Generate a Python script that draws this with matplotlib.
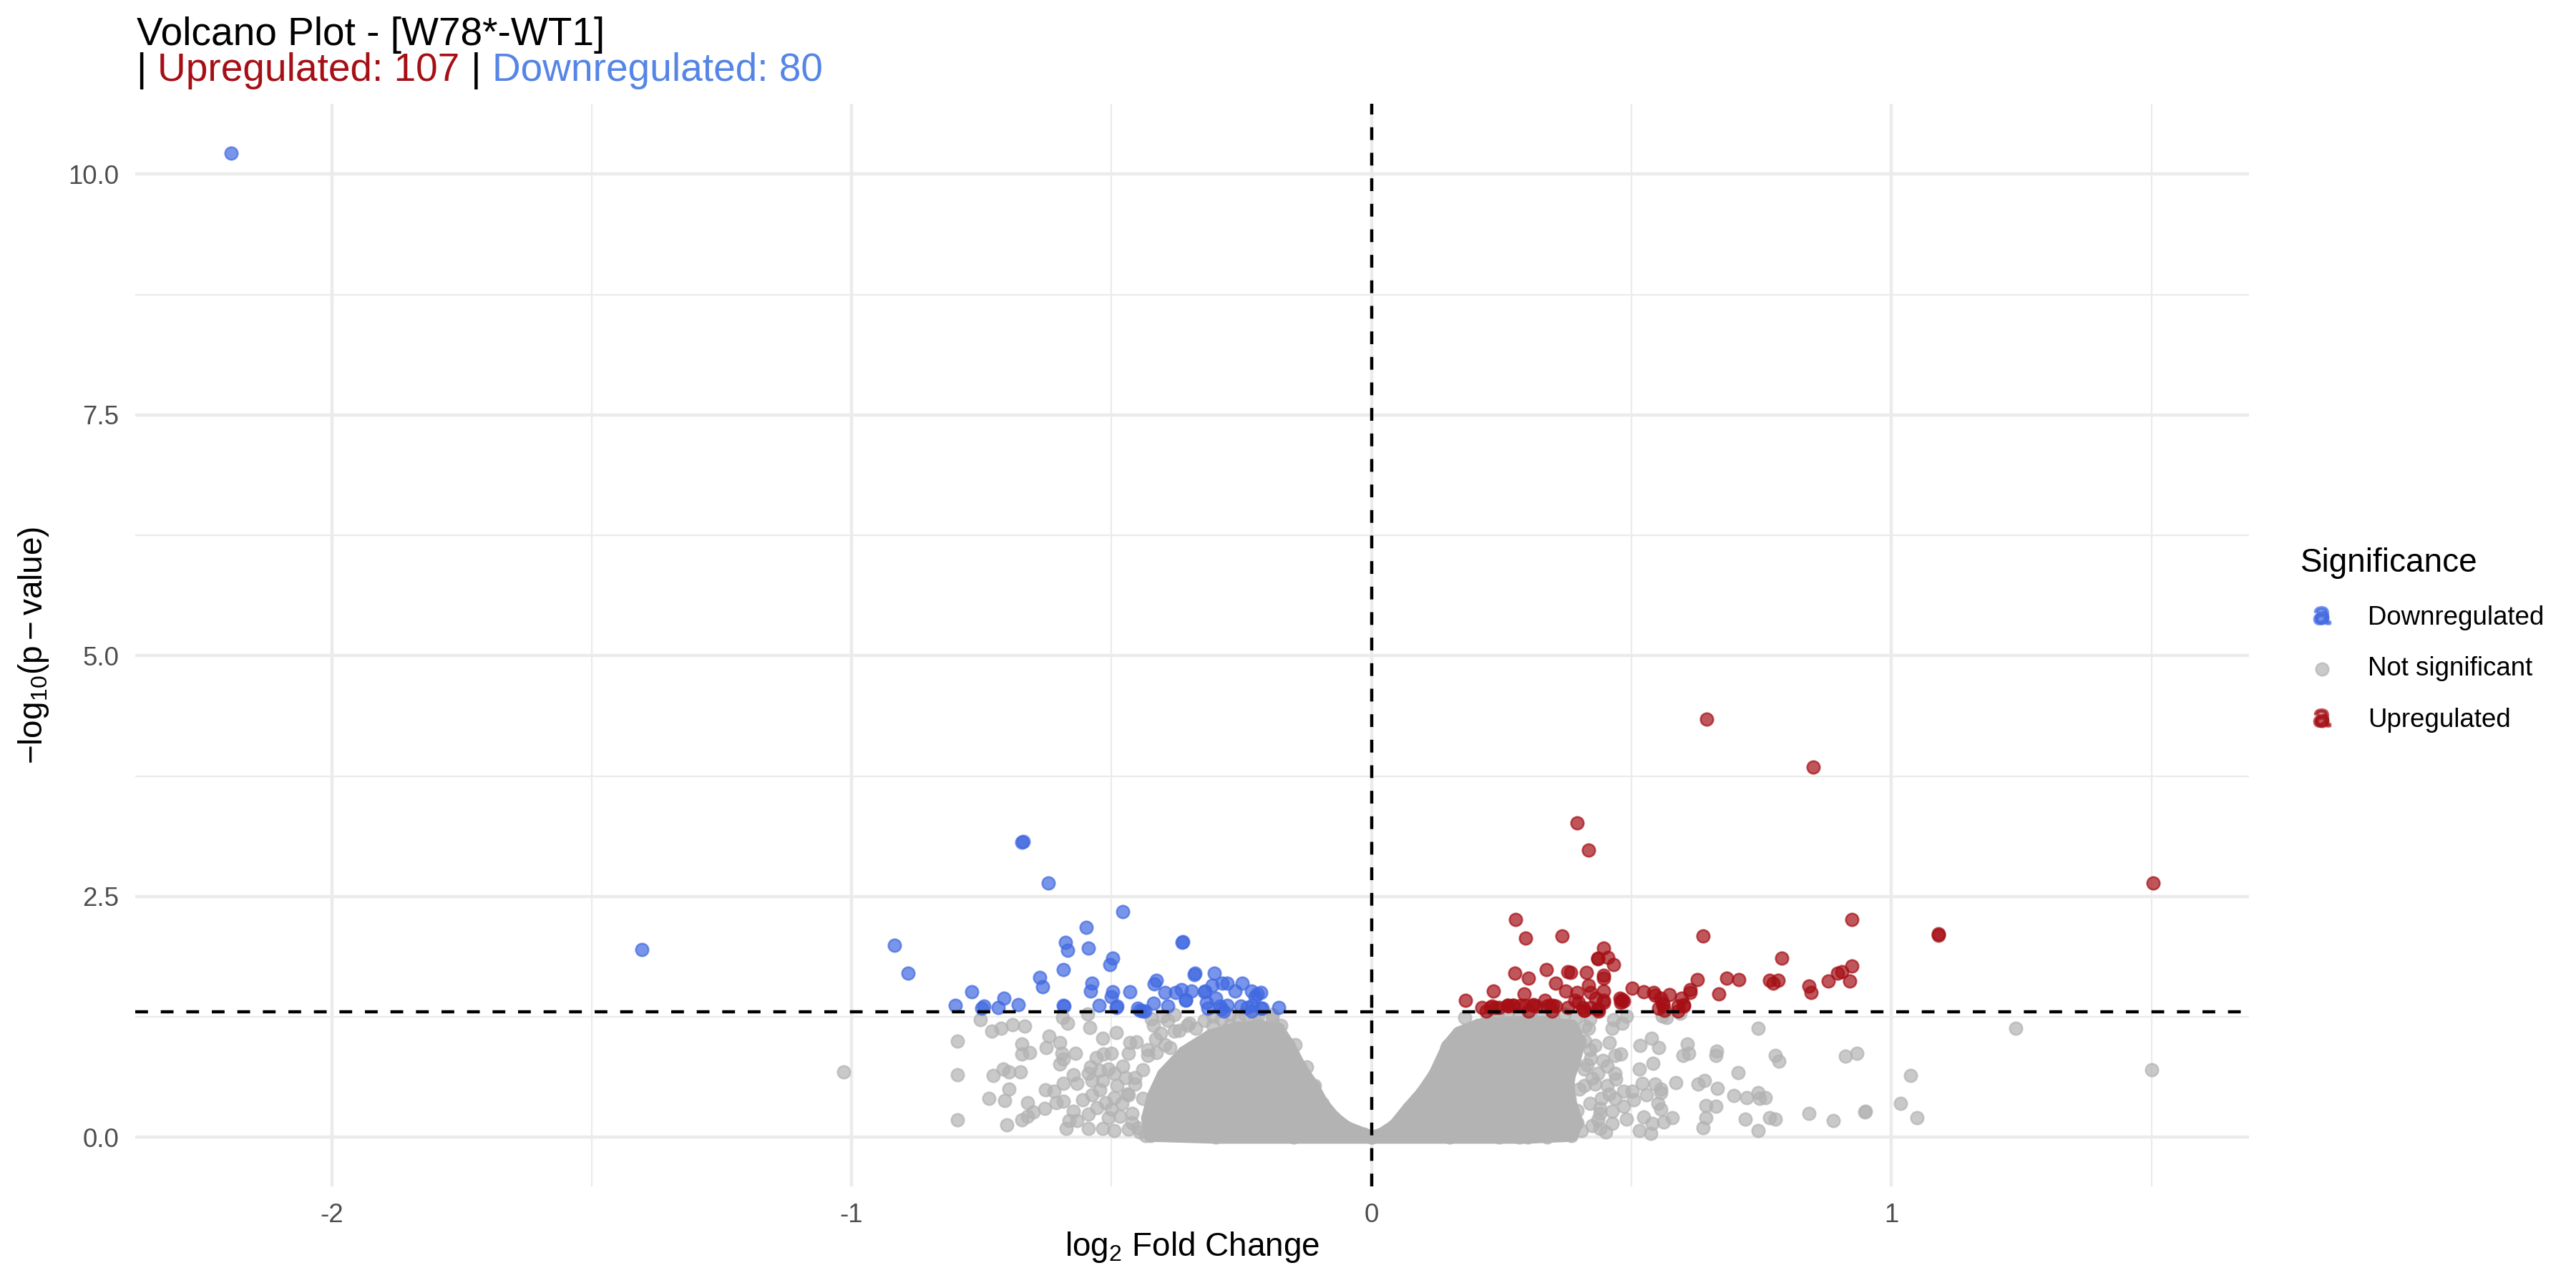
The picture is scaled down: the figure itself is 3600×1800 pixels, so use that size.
import matplotlib
matplotlib.use("Agg")
import matplotlib.pyplot as plt
from matplotlib.lines import Line2D
from matplotlib.legend_handler import HandlerTuple
import numpy as np

plt.rcParams['font.family'] = ['Liberation Sans', 'DejaVu Sans']
plt.rcParams['mathtext.fontset'] = 'custom'
plt.rcParams['mathtext.rm'] = 'Liberation Sans'
plt.rcParams['mathtext.it'] = 'Liberation Sans:italic'
plt.rcParams['mathtext.default'] = 'regular'

# ---- data (log2 fold change, -log10 p) ----
down_x = [-2.193, -1.403, -0.670, -0.672, -0.622, -0.918, -0.892, -0.479, -0.549,
          -0.588, -0.584, -0.544, -0.498, -0.503, -0.593, -0.363, -0.364, -0.638,
          -0.633, -0.769, -0.707, -0.800, -0.750, -0.745, -0.718, -0.679, -0.593,
          -0.592, -0.537, -0.541, -0.498, -0.500, -0.524, -0.490, -0.491, -0.465,
          -0.449, -0.440, -0.419, -0.414, -0.418, -0.397, -0.392, -0.377, -0.366,
          -0.358, -0.347, -0.340, -0.341, -0.321, -0.320, -0.317, -0.306, -0.302,
          -0.299, -0.287, -0.278, -0.291, -0.315, -0.248, -0.263, -0.231, -0.220,
          -0.213, -0.224, -0.252, -0.239, -0.213, -0.179, -0.284, -0.231, -0.436,
          -0.446, -0.357, -0.289, -0.278, -0.229, -0.210]
down_y = [10.22, 1.945, 3.07, 3.06, 2.64, 1.99, 1.70, 2.34, 2.18,
          2.02, 1.94, 1.96, 1.86, 1.79, 1.74, 2.03, 2.02, 1.66,
          1.56, 1.51, 1.44, 1.37, 1.34, 1.36, 1.35, 1.38, 1.37,
          1.36, 1.60, 1.52, 1.51, 1.46, 1.37, 1.36, 1.35, 1.51,
          1.34, 1.31, 1.39, 1.63, 1.59, 1.50, 1.36, 1.50, 1.53,
          1.43, 1.52, 1.70, 1.69, 1.51, 1.52, 1.40, 1.58, 1.70,
          1.44, 1.60, 1.60, 1.36, 1.34, 1.60, 1.52, 1.52, 1.49,
          1.50, 1.46, 1.36, 1.35, 1.34, 1.35, 1.31, 1.31, 1.31,
          1.32, 1.42, 1.33, 1.37, 1.37, 1.34]

up_x = [0.645, 0.849, 1.503, 0.396, 0.418, 0.277, 0.296, 0.366, 0.638, 0.924,
        1.090, 1.091, 0.789, 0.924, 0.905, 0.896, 0.878, 0.920, 0.841, 0.845,
        0.765, 0.772, 0.782, 0.683, 0.707, 0.668, 0.627, 0.613, 0.613, 0.597,
        0.601, 0.590, 0.573, 0.543, 0.545, 0.524, 0.501, 0.560, 0.563, 0.481,
        0.482, 0.478, 0.447, 0.435, 0.436, 0.455, 0.466, 0.414, 0.446, 0.446,
        0.377, 0.383, 0.336, 0.276, 0.302, 0.354, 0.234, 0.293, 0.373, 0.395,
        0.418, 0.422, 0.446, 0.392, 0.431, 0.446, 0.181, 0.213, 0.231, 0.239,
        0.263, 0.272, 0.287, 0.310, 0.317, 0.334, 0.343, 0.354, 0.377, 0.407,
        0.422, 0.437, 0.347, 0.220, 0.302, 0.552, 0.229, 0.246, 0.262, 0.273,
        0.295, 0.311, 0.338, 0.349, 0.398, 0.409, 0.436, 0.447, 0.480, 0.485,
        0.561, 0.589, 0.600, 0.556, 0.409, 0.436, 0.262]
up_y = [4.34, 3.84, 2.64, 3.26, 2.98, 2.26, 2.07, 2.09, 2.09, 2.26,
        2.10, 2.11, 1.86, 1.78, 1.72, 1.70, 1.62, 1.62, 1.57, 1.50,
        1.63, 1.60, 1.63, 1.65, 1.64, 1.49, 1.64, 1.53, 1.50, 1.44,
        1.36, 1.31, 1.48, 1.50, 1.47, 1.51, 1.55, 1.39, 1.32, 1.42,
        1.43, 1.44, 1.96, 1.86, 1.85, 1.87, 1.79, 1.71, 1.68, 1.65,
        1.72, 1.71, 1.74, 1.70, 1.65, 1.60, 1.52, 1.49, 1.52, 1.50,
        1.58, 1.50, 1.52, 1.42, 1.44, 1.42, 1.42, 1.35, 1.36, 1.35,
        1.36, 1.37, 1.37, 1.37, 1.36, 1.42, 1.37, 1.36, 1.35, 1.35,
        1.35, 1.31, 1.31, 1.31, 1.31, 1.34, 1.35, 1.35, 1.37, 1.37,
        1.37, 1.38, 1.36, 1.37, 1.40, 1.32, 1.33, 1.40, 1.40, 1.41,
        1.37, 1.36, 1.38, 1.44, 1.32, 1.33, 1.37]

# outline of the solid, heavily overplotted part of the grey cloud
core_left_x = [0.0, -0.015, -0.048, -0.072, -0.095, -0.112, -0.137, -0.160, -0.180,
               -0.215, -0.260, -0.310, -0.360, -0.400, -0.420, -0.430, -0.425, -0.300, -0.150]
core_left_y = [0.0, 0.03, 0.10, 0.20, 0.35, 0.52, 0.72, 0.96, 1.12,
               1.15, 1.13, 1.05, 0.88, 0.65, 0.42, 0.20, 0.02, 0.0, 0.0]
core_right_x = [0.0, 0.020, 0.045, 0.072, 0.098, 0.122, 0.148, 0.168, 0.205, 0.250,
                0.330, 0.385, 0.400, 0.390, 0.378, 0.380, 0.395, 0.385, 0.300, 0.150]
core_right_y = [0.0, 0.03, 0.12, 0.30, 0.46, 0.65, 0.95, 1.08, 1.16, 1.19,
                1.19, 1.15, 1.00, 0.80, 0.60, 0.40, 0.15, 0.02, 0.0, 0.0]

# the not significant genes that stand apart from the core
ns_x = [-1.015, -0.797, -0.797, -0.797, -0.752, -0.730, -0.712, -0.690, -0.667, -0.672,
        -0.673, -0.657, -0.708, -0.697, -0.676, -0.728, -0.698, -0.736, -0.706, -0.661,
        -0.702, -0.672, -0.661, -0.650, -0.629, -0.626, -0.620, -0.600, -0.595, -0.599,
        -0.593, -0.594, -0.585, -0.569, -0.546, -0.542, -0.517, -0.491, -0.627, -0.610,
        -0.593, -0.574, -0.607, -0.593, -0.574, -0.582, -0.587, -0.555, -0.538, -0.522,
        -0.566, -0.544, -0.538, -0.530, -0.516, -0.500, -0.541, -0.522, -0.506, -0.566,
        -0.544, -0.528, -0.512, -0.495, -0.544, -0.517, -0.495, -0.468, -0.501, -0.484,
        -0.506, -0.479, -0.468, -0.473, -0.468, -0.465, -0.452, -0.490, -0.495, -0.517,
        -0.430, -0.414, -0.397, -0.387, -0.435, -0.419, -0.392, -0.370, -0.354, -0.338,
        -0.321, -0.305, -0.289, -0.272, -0.256, -0.240, -0.224, -0.208, -0.191, -0.175,
        -0.147, -0.125, -0.109, -0.424, -0.402, -0.380, -0.305, -0.272, -0.245, -0.218,
        -0.191, -0.450, -0.460, -0.440, -0.455, -0.440, -0.430, -0.470, -0.480, -0.460,
        -0.445, -0.455, -0.415, -0.405, -0.380, -0.350,
        0.180, 0.145, 0.080, 0.744, 0.539, 0.517, 0.553, 0.608, 0.599, 0.610,
        0.664, 0.662, 0.776, 0.784, 0.542, 0.515, 0.705, 0.586, 0.628, 0.640,
        0.665, 0.697, 0.722, 0.744, 0.747, 0.757, 0.521, 0.545, 0.556, 0.556,
        0.485, 0.501, 0.504, 0.529, 0.551, 0.556, 0.643, 0.662, 0.643, 0.637,
        0.719, 0.765, 0.776, 0.744, 0.841, 0.578, 0.562, 0.537, 0.515, 0.523,
        0.540, 0.485, 0.491, 0.463, 0.436, 0.439, 0.463, 0.439, 0.442, 0.458,
        0.469, 0.453, 0.469, 0.453, 0.436, 0.422, 0.409, 0.409, 0.425, 0.420,
        0.458, 0.480, 0.469, 0.463, 0.482, 0.491, 0.466, 0.559, 0.567, 0.594,
        0.417, 0.420, 0.382, 0.338, 0.284, 0.246, 0.404, 0.224, 0.243, 0.262,
        0.284, 0.306, 0.327, 0.349, 0.371, 0.393, 0.912, 0.933, 1.037, 0.888,
        0.949, 0.950, 1.017, 1.049, 1.239, 1.500, 0.410, 0.430, 0.415, 0.430,
        0.420, 0.440, 0.425, 0.450, 0.470, 0.445, 0.400, 0.410, 0.395]
ns_y = [0.68, 0.995, 0.65, 0.18, 1.22, 1.10, 1.13, 1.17, 1.15, 0.97,
        0.86, 0.88, 0.71, 0.68, 0.68, 0.64, 0.50, 0.40, 0.38, 0.36,
        0.13, 0.18, 0.22, 0.26, 0.30, 0.93, 1.05, 0.98, 0.87, 0.76,
        0.81, 1.24, 1.18, 0.87, 1.28, 1.14, 1.03, 1.09, 0.49, 0.48,
        0.56, 0.65, 0.36, 0.37, 0.27, 0.17, 0.09, 0.39, 0.44, 0.49,
        0.56, 0.66, 0.59, 0.83, 0.86, 0.87, 0.73, 0.69, 0.71, 0.17,
        0.24, 0.31, 0.36, 0.41, 0.09, 0.09, 0.07, 0.08, 0.29, 0.22,
        0.20, 0.74, 0.87, 0.62, 0.44, 0.98, 0.99, 0.54, 0.66, 0.59,
        0.91, 0.88, 0.96, 0.93, 0.02, 1.16, 1.21, 1.11, 1.16, 1.13,
        1.21, 1.16, 1.23, 1.16, 1.23, 1.13, 1.21, 1.11, 1.23, 1.16,
        0.96, 0.73, 0.54, 1.23, 1.26, 1.27, 1.26, 1.27, 1.28, 1.26,
        1.27, 0.10, 0.25, 0.40, 0.55, 0.70, 0.85, 0.45, 0.35, 0.15,
        0.05, 0.62, 1.02, 1.08, 1.10, 1.18,
        1.24, 0.93, 0.33, 1.13, 1.03, 0.95, 0.93, 0.97, 0.85, 0.87,
        0.89, 0.85, 0.85, 0.79, 0.77, 0.71, 0.67, 0.57, 0.55, 0.59,
        0.51, 0.43, 0.41, 0.46, 0.40, 0.41, 0.56, 0.55, 0.50, 0.46,
        0.48, 0.48, 0.39, 0.44, 0.35, 0.29, 0.33, 0.32, 0.20, 0.10,
        0.19, 0.20, 0.19, 0.07, 0.25, 0.20, 0.16, 0.04, 0.07, 0.21,
        0.14, 0.32, 0.19, 0.14, 0.18, 0.09, 0.27, 0.30, 0.40, 0.45,
        0.40, 0.54, 0.66, 0.74, 0.66, 0.82, 0.71, 0.54, 0.61, 0.91,
        0.98, 0.86, 0.85, 1.13, 1.18, 1.26, 1.22, 1.26, 1.24, 1.29,
        1.13, 1.23, 0.04, 0.0, 0.0, 0.0, 0.07, 1.24, 1.27, 1.26,
        1.28, 1.26, 1.27, 1.26, 1.28, 1.24, 0.84, 0.87, 0.64, 0.17,
        0.26, 0.27, 0.35, 0.20, 1.13, 0.70, 1.00, 0.95, 0.75, 0.55,
        0.35, 0.25, 0.12, 0.05, 0.60, 0.80, 0.50, 1.15, 0.28]

fc_cut = 0.0
p_cut = -np.log10(0.05)
n_up = 107
n_down = 80

col_down = '#4169E1'
col_up = '#A50F15'
col_ns = '#B3B3B3'
col_down_txt = '#5585E6'

fig = plt.figure(figsize=(12, 6), dpi=300)
ax = fig.add_axes([189 / 3600, 1 - 1658 / 1800, (3143 - 189) / 3600, (1658 - 145) / 1800])

pt = dict(s=18, alpha=0.7, linewidths=0.6)

ax.fill(core_left_x, core_left_y, facecolor=col_ns, edgecolor=col_ns, lw=4.4,
        joinstyle='round', zorder=2)
ax.fill(core_right_x, core_right_y, facecolor=col_ns, edgecolor=col_ns, lw=4.4,
        joinstyle='round', zorder=2)
sc_ns = ax.scatter(ns_x + core_left_x + core_right_x, ns_y + core_left_y + core_right_y,
                   color=col_ns, zorder=3, **pt)
sc_down = ax.scatter(down_x, down_y, color=col_down, zorder=4, **pt)
sc_up = ax.scatter(up_x, up_y, color=col_up, zorder=4, **pt)

ax.axvline(fc_cut, color='black', lw=1.07, ls=(0, (4, 4)), zorder=5)
ax.axhline(p_cut, color='black', lw=1.07, ls=(0, (4, 4)), zorder=5)

# limits with 5% expansion like ggplot
all_x = np.array(down_x + up_x + ns_x)
all_y = np.array(down_y + up_y + ns_y)
sx = all_x.max() - all_x.min()
sy = all_y.max() - all_y.min()
ax.set_xlim(all_x.min() - 0.05 * sx, all_x.max() + 0.05 * sx)
ax.set_ylim(all_y.min() - 0.05 * sy, all_y.max() + 0.05 * sy)

ax.set_xticks([-2, -1, 0, 1])
ax.set_xticklabels(['-2', '-1', '0', '1'])
ax.set_xticks([-1.5, -0.5, 0.5, 1.5], minor=True)
ax.set_yticks([0, 2.5, 5, 7.5, 10])
ax.set_yticklabels(['0.0', '2.5', '5.0', '7.5', '10.0'])
ax.set_yticks([1.25, 3.75, 6.25, 8.75], minor=True)
ax.grid(which='major', color='#EBEBEB', lw=1.07, zorder=0)
ax.grid(which='minor', color='#EBEBEB', lw=0.53, zorder=0)
ax.set_axisbelow(True)
for s in ax.spines.values():
    s.set_visible(False)
ax.tick_params(which='both', length=0, labelsize=8.8, labelcolor='#4D4D4D', pad=5.5)

ax.set_xlabel(r'$log_2$ Fold Change', fontsize=11)
ax.xaxis.set_label_coords(0.5, -0.040)
ax.set_ylabel(r'$-log_{10}(p - value)$', fontsize=11)
ax.yaxis.set_label_coords(-0.040, 0.5)

# title: first line plain, second line in pieces of colour
fig.text(191 / 3600, 1 - 63 / 1800, 'Volcano Plot - [W78*-WT1]', fontsize=13.2,
         va='baseline', ha='left')
renderer = fig.canvas.get_renderer()
pieces = [('| ', 'black'), (f'Upregulated: {n_up}', col_up), (' | ', 'black'),
          (f'Downregulated: {n_down}', col_down_txt)]
xpos = 191 / 3600
for txt, c in pieces:
    t = fig.text(xpos, 1 - 113 / 1800, txt, fontsize=13.2, color=c, va='baseline', ha='left')
    bb = t.get_window_extent(renderer)
    xpos += bb.width / fig.bbox.width

# legend
a_down = Line2D([], [], marker='$a$', ls='', color=col_down, alpha=0.7, markersize=5.5)
a_up = Line2D([], [], marker='$a$', ls='', color=col_up, alpha=0.7, markersize=5.5)
leg = fig.legend([(sc_down, a_down), sc_ns, (sc_up, a_up)],
                 ['Downregulated', 'Not significant', 'Upregulated'],
                 handler_map={tuple: HandlerTuple(ndivide=1)},
                 title='Significance', loc='upper left',
                 bbox_to_anchor=(3206 / 3600, 1 - 756 / 1800),
                 frameon=False, fontsize=8.8, title_fontsize=11,
                 handlelength=1.6, handletextpad=0.95, labelspacing=1.0,
                 borderaxespad=0, borderpad=0.25, alignment='left', scatterpoints=1)

fig.savefig('out.png', dpi=300)
